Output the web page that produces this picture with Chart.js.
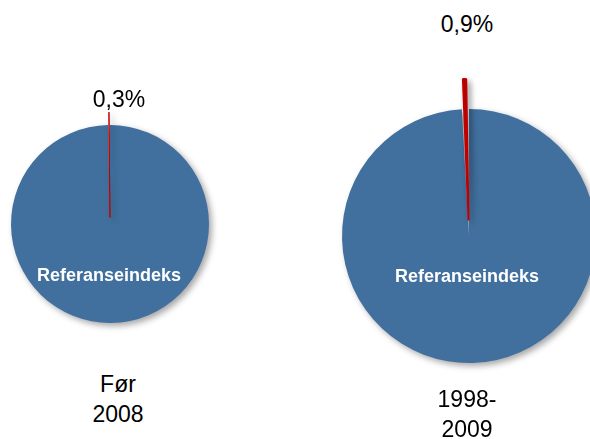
<!DOCTYPE html>
<html>
<head>
<meta charset="utf-8">
<script src="https://cdn.jsdelivr.net/npm/chart.js@4.4.1/dist/chart.umd.min.js"></script>
<style>
  html, body { margin: 0; padding: 0; background: #fff; width: 590px; height: 439px; overflow: hidden; }
  body { position: relative; font-family: "Liberation Sans", Arial, sans-serif; }
  .box { position: absolute; }
  .lbl { position: absolute; color: #000; font-size: 23px; text-align: center; line-height: 30px; white-space: nowrap; }
  .inner { position: absolute; color: #fff; font-weight: bold; font-size: 18px; line-height: 20px; text-align: center; white-space: nowrap; }
</style>
</head>
<body>
<div class="box" style="left:-10px;top:94px;width:240px;height:260px;"><canvas id="pie-left"></canvas></div>
<div class="box" style="left:299px;top:66px;width:340px;height:340px;"><canvas id="pie-right"></canvas></div>

<div class="lbl" id="pct-left" style="left:69px;top:84px;width:100px;"></div>
<div class="lbl" id="pct-right" style="left:417px;top:9px;width:100px;"></div>
<div class="inner" id="in-left" style="left:19px;top:265px;width:180px;"></div>
<div class="inner" id="in-right" style="left:377px;top:266px;width:180px;"></div>
<div class="lbl" id="cap-left" style="left:68px;top:369px;width:100px;"></div>
<div class="lbl" id="cap-right" style="left:417px;top:384px;width:100px;"></div>

<script>
// data
var categories = ['Referanseindeks', 'Avvik'];
var periodLines = [['Før', '2008'], ['1998-', '2009']];
var leftValues = [99.7, 0.3];
var rightValues = [99.1, 0.9];
var pctLabels = ['0,3%', '0,9%'];

var blue = '#41709e';
var red = '#c00000';

// soft drop shadow under the pies
var shadowPlugin = {
  id: 'pieShadow',
  beforeDatasetsDraw: function (chart) {
    var c = chart.ctx;
    c.save();
    c.shadowColor = 'rgba(0,0,0,0.35)';
    c.shadowBlur = 6;
    c.shadowOffsetX = 3;
    c.shadowOffsetY = 3;
  },
  afterDatasetsDraw: function (chart) {
    chart.ctx.restore();
  }
};

function makePie(id, values, radius, offset, redBorder) {
  var ctx = document.getElementById(id);
  return new Chart(ctx, {
    type: 'pie',
    data: {
      labels: categories,
      datasets: [{
        data: values,
        backgroundColor: [blue, red],
        borderColor: [blue, red],
        borderWidth: [0, redBorder],
        offset: [0, offset]
      }]
    },
    options: {
      responsive: true, maintainAspectRatio: false,
      animation: false,
      radius: radius,
      layout: { padding: 0 },
      plugins: { legend: { display: false }, tooltip: { enabled: false } }
    },
    plugins: [shadowPlugin]
  });
}

makePie('pie-left', leftValues, 99, 26, 1);
makePie('pie-right', rightValues, 127, 62, 2);

document.getElementById('pct-left').textContent = pctLabels[0];
document.getElementById('pct-right').textContent = pctLabels[1];
document.getElementById('in-left').textContent = categories[0];
document.getElementById('in-right').textContent = categories[0];
document.getElementById('cap-left').innerHTML = periodLines[0].join('<br>');
document.getElementById('cap-right').innerHTML = periodLines[1].join('<br>');
</script>
</body>
</html>
